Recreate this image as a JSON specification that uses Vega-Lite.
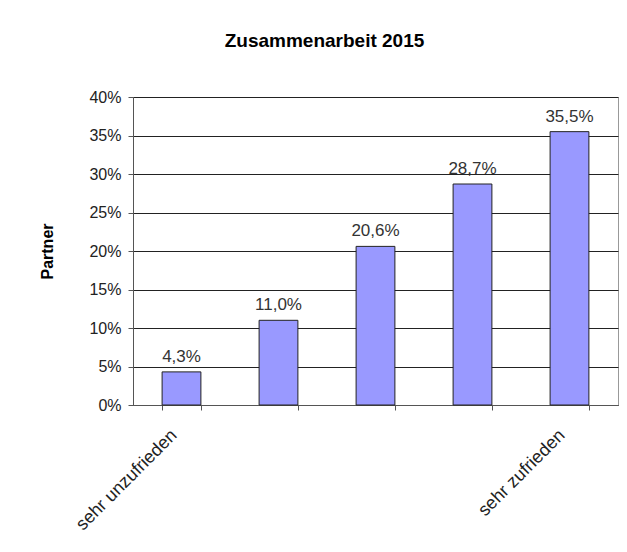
{
  "$schema": "https://vega.github.io/schema/vega-lite/v6.json",
  "width": 485,
  "height": 308,
  "autosize": {"type": "none"},
  "padding": {"left": 133, "top": 97, "right": 9, "bottom": 147},
  "background": "white",
  "config": {
    "locale": {"number": {"decimal": ",", "thousands": ".", "grouping": [3], "currency": ["", " €"]}},
    "font": "Liberation Sans",
    "view": {"stroke": "#999", "strokeWidth": 1}
  },
  "title": {
    "text": "Zusammenarbeit 2015",
    "fontSize": 19,
    "fontWeight": "bold",
    "color": "#000",
    "anchor": "middle",
    "frame": "group",
    "dx": -51,
    "offset": 19,
    "baseline": "bottom"
  },
  "data": {
    "values": [
      {"stufe": 1, "anteil": 0.043},
      {"stufe": 2, "anteil": 0.110},
      {"stufe": 3, "anteil": 0.206},
      {"stufe": 4, "anteil": 0.287},
      {"stufe": 5, "anteil": 0.355}
    ]
  },
  "encoding": {
    "x": {
      "field": "stufe",
      "type": "ordinal",
      "scale": {"paddingInner": 0.6, "paddingOuter": 0.3},
      "axis": {
        "title": null,
        "labelExpr": "datum.value == 1 ? 'sehr unzufrieden' : (datum.value == 5 ? 'sehr zufrieden' : '')",
        "labelAngle": -45,
        "labelPadding": 16,
        "labelOffset": -14,
        "labelFontSize": 18,
        "labelColor": "#222",
        "tickBand": "extent",
        "tickSize": 5,
        "tickColor": "#555",
        "domainColor": "#555",
        "grid": false
      }
    },
    "y": {
      "field": "anteil",
      "type": "quantitative",
      "scale": {"domain": [0, 0.4]},
      "axis": {
        "format": ".0%",
        "values": [0, 0.05, 0.1, 0.15, 0.2, 0.25, 0.3, 0.35, 0.4],
        "grid": true,
        "gridColor": "#222",
        "domainColor": "#555",
        "tickColor": "#555",
        "tickSize": 5,
        "labelPadding": 7,
        "labelFontSize": 16,
        "labelColor": "#222",
        "title": "Partner",
        "titleFontSize": 16,
        "titleFontWeight": "bold",
        "titleColor": "#000",
        "titleX": -86,
        "titleY": 154,
        "titleAngle": -90,
        "titleBaseline": "middle",
        "titleAlign": "center"
      }
    }
  },
  "layer": [
    {
      "mark": {"type": "bar", "color": "#9999FF", "stroke": "#222", "strokeWidth": 1}
    },
    {
      "mark": {"type": "text", "baseline": "bottom", "dy": -6, "fontSize": 17, "color": "#333"},
      "encoding": {"text": {"field": "anteil", "type": "quantitative", "format": ".1%"}}
    }
  ]
}
